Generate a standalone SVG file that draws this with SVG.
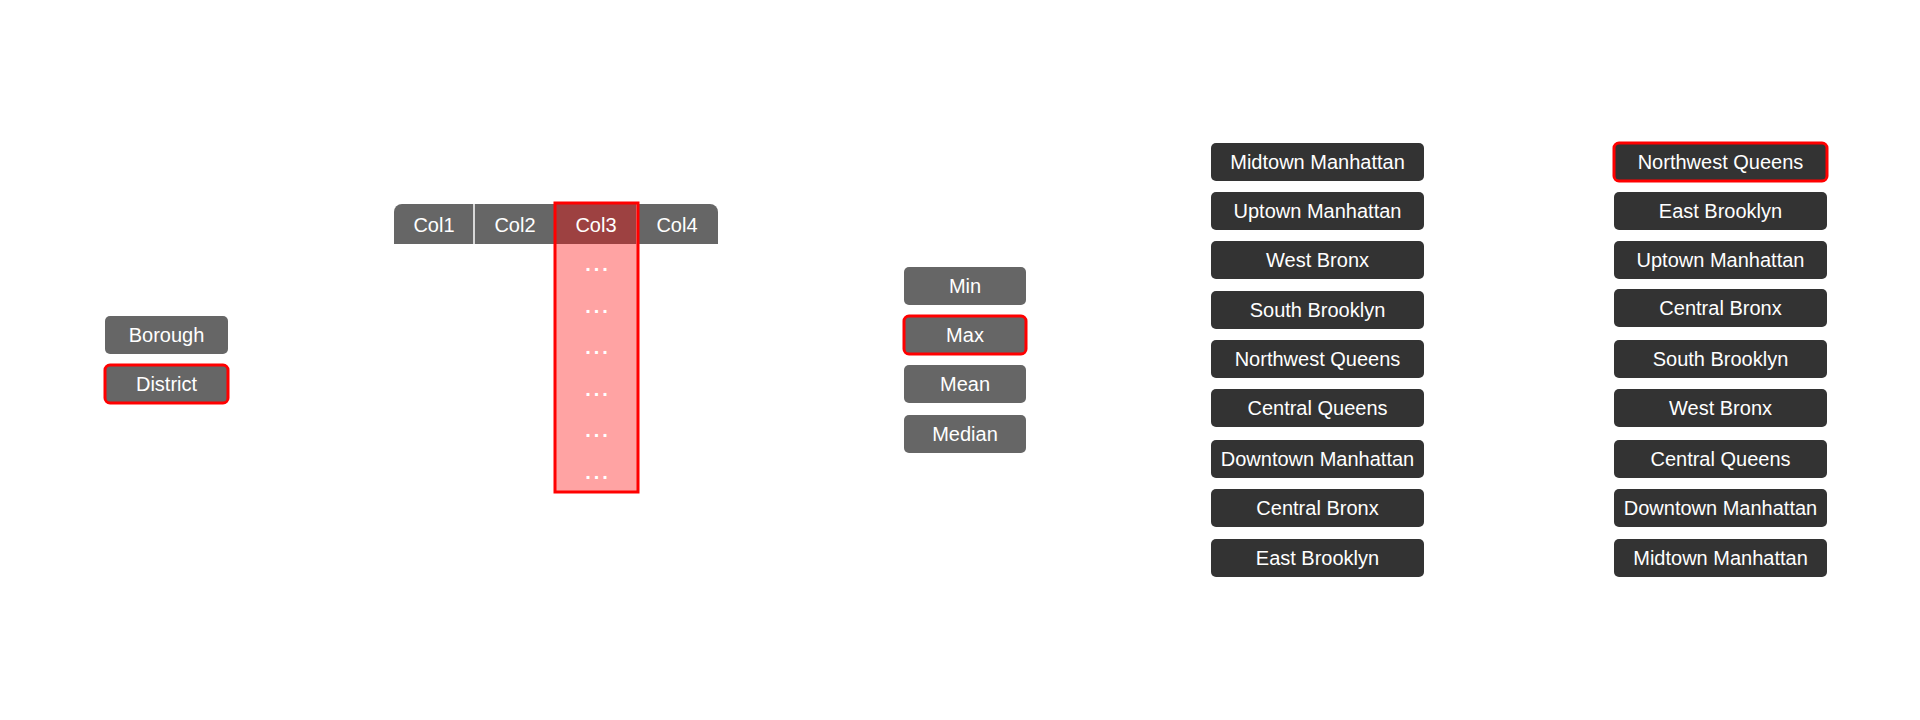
<svg xmlns="http://www.w3.org/2000/svg" width="1920" height="720" viewBox="0 0 1920 720">
<style>
.g{fill:#666666}
.d{fill:#333333}
.hl{stroke:#ff0000;stroke-width:3}
text{font-family:"Liberation Sans",Arial,sans-serif;font-size:20px;fill:#ffffff;text-anchor:middle;dominant-baseline:central}
.dots{font-size:20px;font-weight:bold;letter-spacing:3px}
</style>
<rect width="1920" height="720" fill="#ffffff"/>
<g id="borough"><rect class="g" x="105" y="316" width="123" height="38" rx="5"/><text x="166.5" y="335">Borough</text></g>
<g id="district"><rect class="g hl" x="105" y="365" width="123" height="38" rx="5"/><text x="166.5" y="384">District</text></g>
<g id="table">
<path class="g" d="M394,244 V212 a8,8 0 0 1 8,-8 H710 a8,8 0 0 1 8,8 V244 Z"/>
<line x1="474" y1="204" x2="474" y2="244" stroke="#ffffff" stroke-width="1.5"/>
<line x1="555" y1="204" x2="555" y2="244" stroke="#ffffff" stroke-width="1.5"/>
<line x1="637" y1="204" x2="637" y2="244" stroke="#ffffff" stroke-width="1.5"/>
<text x="434" y="225">Col1</text><text x="515" y="225">Col2</text><text x="677" y="225">Col4</text>
</g>
<g id="col3-highlight">
<rect x="555" y="203" width="83" height="289" fill="#ff0000" fill-opacity="0.36" class="hl"/>
<text x="596" y="225">Col3</text>
<text class="dots" x="598" y="264">...</text><text class="dots" x="598" y="306">...</text><text class="dots" x="598" y="347">...</text><text class="dots" x="598" y="389">...</text><text class="dots" x="598" y="430">...</text><text class="dots" x="598" y="472">...</text>
</g>
<g id="min"><rect class="g" x="904" y="267" width="122" height="38" rx="5"/><text x="965" y="286">Min</text></g>
<g id="max"><rect class="g hl" x="904" y="316" width="122" height="38" rx="5"/><text x="965" y="335">Max</text></g>
<g id="mean"><rect class="g" x="904" y="365" width="122" height="38" rx="5"/><text x="965" y="384">Mean</text></g>
<g id="median"><rect class="g" x="904" y="415" width="122" height="38" rx="5"/><text x="965" y="434">Median</text></g>
<g id="l1"><rect class="d" x="1211" y="143" width="213" height="38" rx="5"/><text x="1317.5" y="162">Midtown Manhattan</text></g>
<g id="l2"><rect class="d" x="1211" y="192" width="213" height="38" rx="5"/><text x="1317.5" y="211">Uptown Manhattan</text></g>
<g id="l3"><rect class="d" x="1211" y="241" width="213" height="38" rx="5"/><text x="1317.5" y="260">West Bronx</text></g>
<g id="l4"><rect class="d" x="1211" y="291" width="213" height="38" rx="5"/><text x="1317.5" y="310">South Brooklyn</text></g>
<g id="l5"><rect class="d" x="1211" y="340" width="213" height="38" rx="5"/><text x="1317.5" y="359">Northwest Queens</text></g>
<g id="l6"><rect class="d" x="1211" y="389" width="213" height="38" rx="5"/><text x="1317.5" y="408">Central Queens</text></g>
<g id="l7"><rect class="d" x="1211" y="440" width="213" height="38" rx="5"/><text x="1317.5" y="459">Downtown Manhattan</text></g>
<g id="l8"><rect class="d" x="1211" y="489" width="213" height="38" rx="5"/><text x="1317.5" y="508">Central Bronx</text></g>
<g id="l9"><rect class="d" x="1211" y="539" width="213" height="38" rx="5"/><text x="1317.5" y="558">East Brooklyn</text></g>
<g id="r1"><rect class="d hl" x="1614" y="143" width="213" height="38" rx="5"/><text x="1720.5" y="162">Northwest Queens</text></g>
<g id="r2"><rect class="d" x="1614" y="192" width="213" height="38" rx="5"/><text x="1720.5" y="211">East Brooklyn</text></g>
<g id="r3"><rect class="d" x="1614" y="241" width="213" height="38" rx="5"/><text x="1720.5" y="260">Uptown Manhattan</text></g>
<g id="r4"><rect class="d" x="1614" y="289" width="213" height="38" rx="5"/><text x="1720.5" y="308">Central Bronx</text></g>
<g id="r5"><rect class="d" x="1614" y="340" width="213" height="38" rx="5"/><text x="1720.5" y="359">South Brooklyn</text></g>
<g id="r6"><rect class="d" x="1614" y="389" width="213" height="38" rx="5"/><text x="1720.5" y="408">West Bronx</text></g>
<g id="r7"><rect class="d" x="1614" y="440" width="213" height="38" rx="5"/><text x="1720.5" y="459">Central Queens</text></g>
<g id="r8"><rect class="d" x="1614" y="489" width="213" height="38" rx="5"/><text x="1720.5" y="508">Downtown Manhattan</text></g>
<g id="r9"><rect class="d" x="1614" y="539" width="213" height="38" rx="5"/><text x="1720.5" y="558">Midtown Manhattan</text></g>
<g id="connectors"/>
</svg>
